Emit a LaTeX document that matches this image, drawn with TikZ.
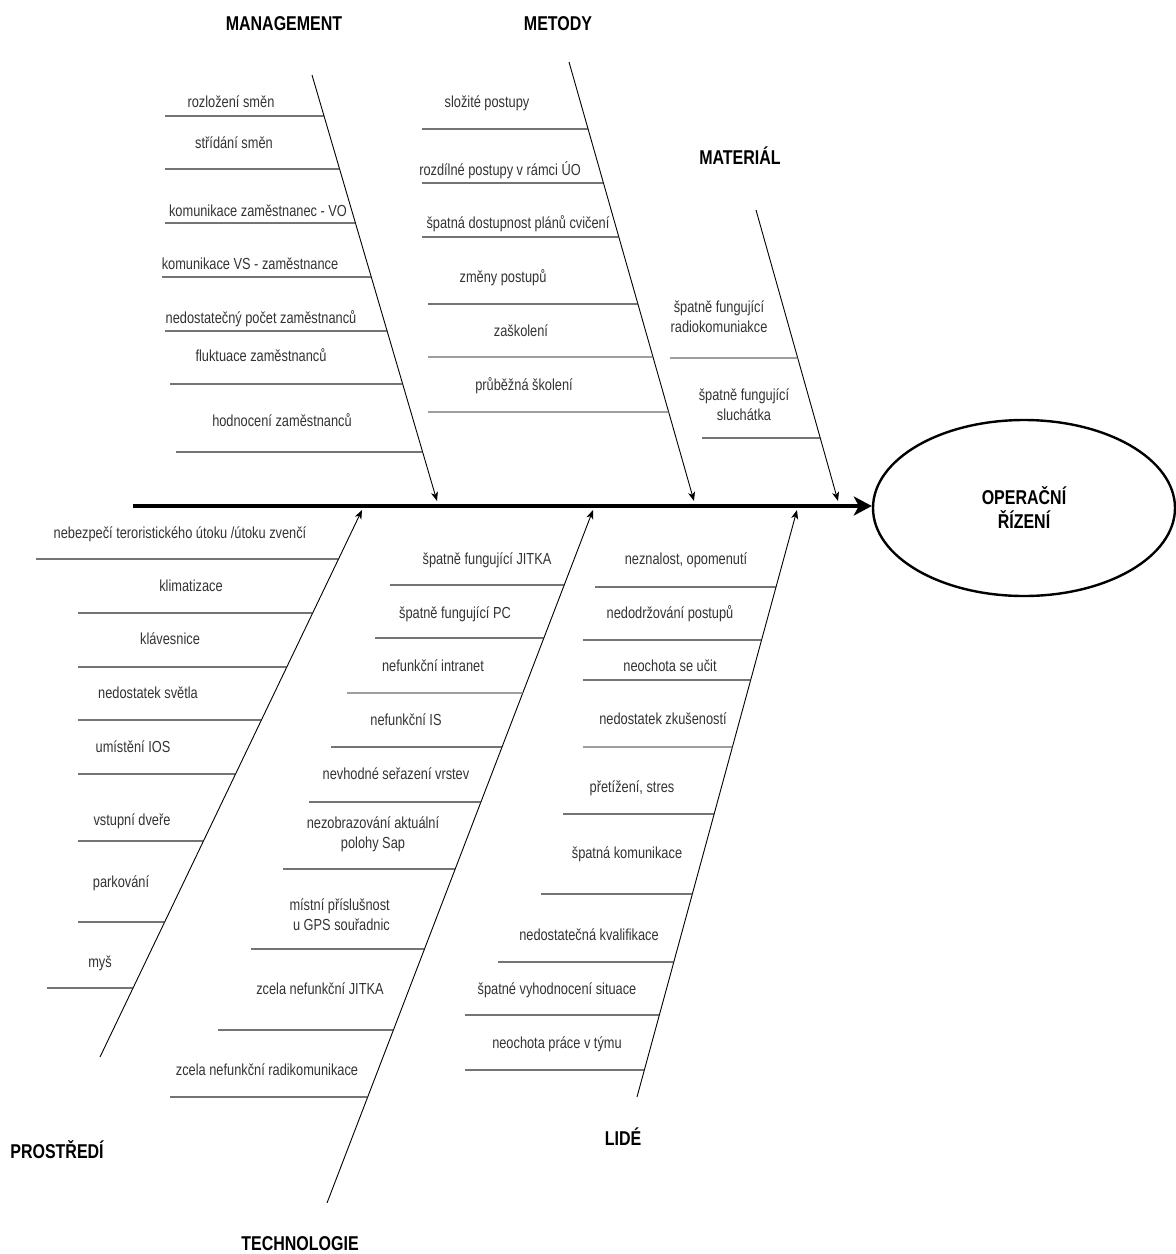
\documentclass[tikz,border=0pt]{standalone}
\usepackage{fontspec}
\setmainfont{Liberation Sans}[FakeStretch=0.8]
\usetikzlibrary{arrows.meta,calc,shapes.geometric}

\definecolor{txt}{HTML}{333333}
\definecolor{ribc}{HTML}{2A2A2A}
\definecolor{ribg}{HTML}{6A6A6A}

% a branch: start point S, arrow tip E on the spine
\newcommand\defbranch[5]{%
  \coordinate (#1S) at (#2,#3);
  \coordinate (#1E) at (#4,#5);
  \expandafter\def\csname #1ys\endcsname{#3}%
  \expandafter\def\csname #1ye\endcsname{#5}%
}
% a horizontal cause line from x=#2 at height #3 up to branch #1
\newcommand\fishrib[4][]{%
  \pgfmathsetmacro\ribfrac{(#4-\csname #2ys\endcsname)/(\csname #2ye\endcsname-\csname #2ys\endcsname)}%
  \draw[rib,#1] (#3,#4) -- ($(#2S)!\ribfrac!(#2E)$);%
}

\begin{document}
\begin{tikzpicture}[x=1pt,y=-1pt,
  lbl/.style={font=\fontsize{16}{20}\selectfont, text=txt, inner sep=0pt,
    text height=11.5pt, text depth=0pt},
  lbltwo/.style={font=\fontsize{16}{20}\selectfont, text=txt, inner sep=0pt, align=center},
  head/.style={font=\fontsize{20}{24}\selectfont\bfseries, text=black, inner sep=0pt,
    text height=14.3pt, text depth=0pt},
  rib/.style={draw=ribc, line width=1.2pt},
  bone/.style={draw=black, line width=0.9pt, -{Stealth[length=9pt,width=7pt,inset=2.5pt]}},
  spine/.style={draw=black, line width=3.6pt, -{Stealth[length=18pt,width=19pt,inset=5pt]}},
  effectbox/.style={ellipse, draw=black, line width=2.4pt, minimum width=302pt,
    minimum height=176pt, inner sep=0pt, align=center,
    font=\fontsize{20}{24}\selectfont\bfseries}
]
\useasboundingbox (0,0) rectangle (1176,1254);

% effect and spine
\node[effectbox] (effect) at (1024,508) {OPERAČNÍ\\ŘÍZENÍ};
\coordinate (spineL) at (133,506);
\draw[spine] (spineL) -- (spineL -| effect.west);

% category headings
\node[head] (hMan)  at (284,23)   {MANAGEMENT};
\node[head] (hMet)  at (558,23)   {METODY};
\node[head] (hMat)  at (740,157)  {MATERIÁL};
\node[head] (hPro)  at (57,1151)  {PROSTŘEDÍ};
\node[head] (hTech) at (300,1243) {TECHNOLOGIE};
\node[head] (hLid)  at (623,1138) {LIDÉ};

% branches
\defbranch{mg}{312}{75}{437}{501}
\defbranch{me}{569}{62}{694}{501}
\defbranch{ma}{756}{210}{838}{501}
\defbranch{pr}{100}{1057}{362}{510}
\defbranch{te}{327}{1203}{593}{510}
\defbranch{li}{637}{1097}{797}{510}
\foreach \b in {mg,me,ma,pr,te,li} \draw[bone] (\b S) -- (\b E);

% MANAGEMENT
\node[lbl] (mg1) at (231,102) {rozložení směn};                 \fishrib{mg}{165}{116}
\node[lbl] (mg2) at (234,143) {střídání směn};                  \fishrib{mg}{165}{169}
\node[lbl] (mg3) at (258,211) {komunikace zaměstnanec - VO};    \fishrib{mg}{165}{223}
\node[lbl] (mg4) at (250,264) {komunikace VS - zaměstnance};    \fishrib{mg}{162}{277}
\node[lbl] (mg5) at (261,318) {nedostatečný počet zaměstnanců}; \fishrib{mg}{165}{331}
\node[lbl] (mg6) at (261,356) {fluktuace zaměstnanců};          \fishrib{mg}{170}{384}
\node[lbl] (mg7) at (282,421) {hodnocení zaměstnanců};          \fishrib{mg}{176}{452}

% METODY
\node[lbl] (me1) at (487,102) {složité postupy};                  \fishrib{me}{422}{129}
\node[lbl] (me2) at (500,170) {rozdílné postupy v rámci ÚO};      \fishrib{me}{422}{183}
\node[lbl] (me3) at (518,223) {špatná dostupnost plánů cvičení};  \fishrib{me}{422}{237}
\node[lbl] (me4) at (503,277) {změny postupů};                    \fishrib{me}{428}{304}
\node[lbl] (me5) at (521,331) {zaškolení};                        \fishrib[draw=ribg]{me}{428}{357}
\node[lbl] (me6) at (524,385) {průběžná školení};                 \fishrib[draw=ribg]{me}{428}{412}

% MATERIÁL
\node[lbltwo] (ma1) at (719,317) {špatně fungující\\radiokomuniakce}; \fishrib[draw=ribg]{ma}{670}{358}
\node[lbltwo] (ma2) at (744,405) {špatně fungující\\sluchátka};       \fishrib{ma}{702}{438}

% PROSTŘEDÍ
\node[lbl] (pr1) at (180,533) {nebezpečí teroristického útoku /útoku zvenčí}; \fishrib{pr}{36}{559}
\node[lbl] (pr2) at (191,586) {klimatizace};        \fishrib{pr}{78}{613}
\node[lbl] (pr3) at (170,639) {klávesnice};         \fishrib{pr}{78}{667}
\node[lbl] (pr4) at (148,693) {nedostatek světla};  \fishrib{pr}{78}{720}
\node[lbl] (pr5) at (133,747) {umístění IOS};       \fishrib{pr}{78}{774}
\node[lbl] (pr6) at (132,820) {vstupní dveře};      \fishrib{pr}{78}{841}
\node[lbl] (pr7) at (121,882) {parkování};          \fishrib{pr}{78}{922}
\node[lbl] (pr8) at (100,962) {myš};                \fishrib{pr}{47}{988}

% TECHNOLOGIE
\node[lbl] (te1) at (487,559) {špatně fungující JITKA};    \fishrib{te}{390}{585}
\node[lbl] (te2) at (455,613) {špatně fungující PC};       \fishrib{te}{375}{638}
\node[lbl] (te3) at (433,666) {nefunkční intranet};        \fishrib[draw=ribg]{te}{347}{693}
\node[lbl] (te4) at (406,720) {nefunkční IS};              \fishrib{te}{331}{747}
\node[lbl] (te5) at (396,774) {nevhodné seřazení vrstev};  \fishrib{te}{309}{802}
\node[lbltwo] (te6) at (373,834) {nezobrazování aktuální\\polohy Sap}; \fishrib{te}{283}{869}
\node[lbltwo,align=right,anchor=east] (te7) at (390,915) {místní příslušnost\\u GPS souřadnic}; \fishrib{te}{251}{949}
\node[lbl] (te8) at (320,989) {zcela nefunkční JITKA};     \fishrib{te}{218}{1030}
\node[lbl] (te9) at (267,1070) {zcela nefunkční radikomunikace}; \fishrib{te}{170}{1097}

% LIDÉ
\node[lbl] (li1) at (686,559) {neznalost, opomenutí};        \fishrib{li}{595}{587}
\node[lbl] (li2) at (670,613) {nedodržování postupů};        \fishrib{li}{583}{640}
\node[lbl] (li3) at (670,666) {neochota se učit};            \fishrib{li}{583}{680}
\node[lbl] (li4) at (663,719) {nedostatek zkušeností};       \fishrib[draw=ribg]{li}{583}{747}
\node[lbl] (li5) at (632,787) {přetížení, stres};            \fishrib{li}{563}{814}
\node[lbl] (li6) at (627,853) {špatná komunikace};           \fishrib{li}{541}{894}
\node[lbl] (li7) at (589,935) {nedostatečná kvalifikace};    \fishrib{li}{498}{962}
\node[lbl] (li8) at (557,989) {špatné vyhodnocení situace};  \fishrib{li}{465}{1015}
\node[lbl] (li9) at (557,1043) {neochota práce v týmu};      \fishrib{li}{465}{1070}
\end{tikzpicture}
\end{document}
